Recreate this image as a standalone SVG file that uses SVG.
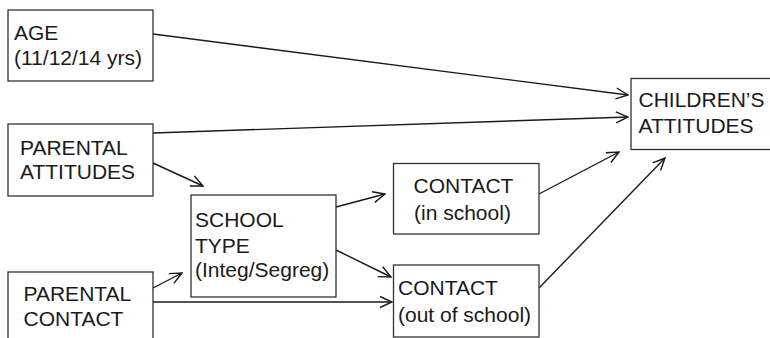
<svg xmlns="http://www.w3.org/2000/svg" width="770" height="338" viewBox="0 0 770 338">
<defs>
<style>
.box{fill:#fff;stroke:#333;stroke-width:1.3}
.t{font-family:"Liberation Sans",Arial,sans-serif;font-size:21px;fill:#1a1a1a}
.e{fill:none;stroke:#1a1a1a;stroke-width:1.4;marker-end:url(#ah)}
</style>
<marker id="ah" viewBox="0 0 14 14" refX="13" refY="7" markerWidth="14" markerHeight="14" markerUnits="userSpaceOnUse" orient="auto">
<path d="M1,1.5 L13,7 L1,12.5" fill="none" stroke="#1a1a1a" stroke-width="1.4"/>
</marker>
</defs>
<rect width="770" height="338" fill="#fff"/>
<g id="connectors">
<line class="e" x1="153" y1="34" x2="628" y2="95"/>
<line class="e" x1="153" y1="133" x2="628" y2="117"/>
<line class="e" x1="153" y1="163" x2="203" y2="186"/>
<line class="e" x1="153" y1="288" x2="182" y2="273"/>
<line class="e" x1="153" y1="302" x2="392" y2="302"/>
<line class="e" x1="336" y1="207" x2="385" y2="194"/>
<line class="e" x1="336" y1="250" x2="391" y2="277"/>
<line class="e" x1="539" y1="194" x2="619" y2="152"/>
<line class="e" x1="539" y1="288" x2="665" y2="158"/>
</g>
<g id="age">
<rect class="box" x="8" y="10" width="145" height="71"/>
<text class="t" x="14" y="39.5">AGE</text>
<text class="t" x="14" y="65">(11/12/14 yrs)</text>
</g>
<g id="parental-attitudes">
<rect class="box" x="8" y="124" width="145" height="72"/>
<text class="t" x="20" y="154.5">PARENTAL</text>
<text class="t" x="20" y="179">ATTITUDES</text>
</g>
<g id="parental-contact">
<rect class="box" x="8" y="272" width="145" height="80"/>
<text class="t" x="23.5" y="301">PARENTAL</text>
<text class="t" x="23.5" y="326">CONTACT</text>
</g>
<g id="school-type">
<rect class="box" x="191" y="195" width="145" height="102"/>
<text class="t" x="195" y="227">SCHOOL</text>
<text class="t" x="195" y="252.5">TYPE</text>
<text class="t" x="195" y="277">(Integ/Segreg)</text>
</g>
<g id="contact-in">
<rect class="box" x="393.5" y="163.5" width="145.5" height="70.5"/>
<text class="t" x="413.5" y="192.5">CONTACT</text>
<text class="t" x="414" y="219.5">(in school)</text>
</g>
<g id="contact-out">
<rect class="box" x="393.5" y="265" width="145.5" height="72"/>
<text class="t" x="398" y="295">CONTACT</text>
<text class="t" x="398" y="321.5">(out of school)</text>
</g>
<g id="childrens-attitudes">
<rect class="box" x="631" y="78.5" width="145" height="71"/>
<text class="t" x="638.5" y="107">CHILDREN’S</text>
<text class="t" x="638.5" y="132.5">ATTITUDES</text>
</g>
</svg>
